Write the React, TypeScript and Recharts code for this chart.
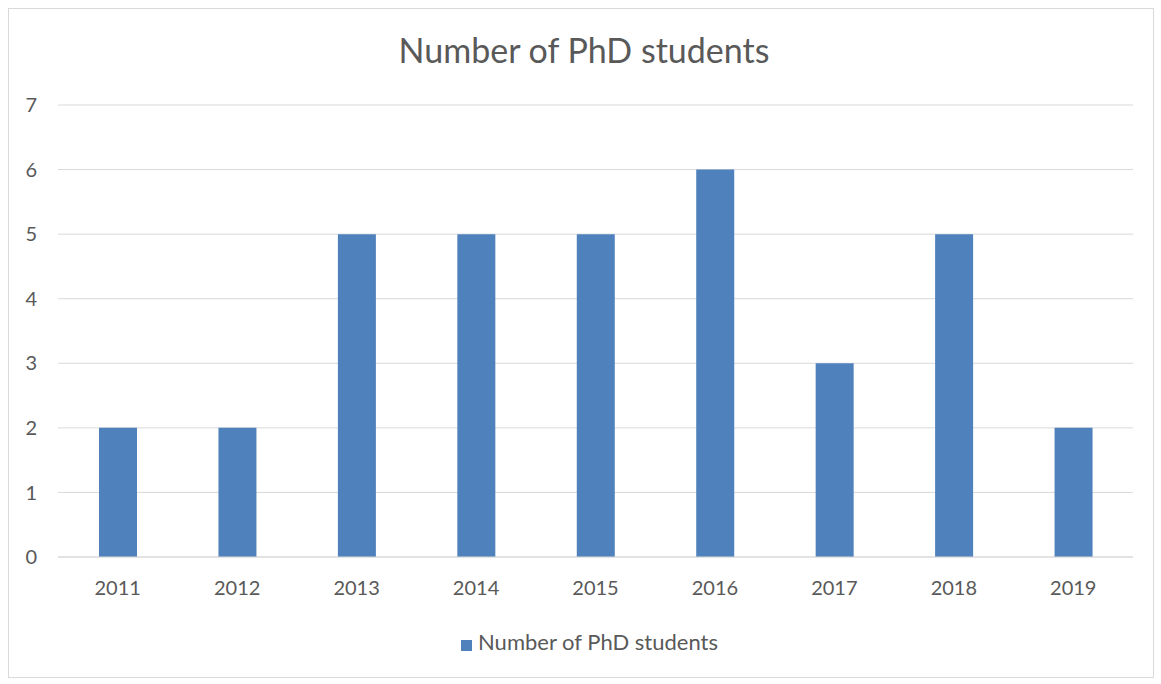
import React from "react";
import { BarChart, Bar, XAxis, YAxis, CartesianGrid, Legend } from "recharts";

// Yearly count of PhD students
const years = ["2011", "2012", "2013", "2014", "2015", "2016", "2017", "2018", "2019"];
const students = [2, 2, 5, 5, 5, 6, 3, 5, 2];
const yTicks = [0, 1, 2, 3, 4, 5, 6, 7];

const seriesName = "Number of PhD students";
const data = years.map((year, i) => ({ year, value: students[i] }));

const FONT = "Lato, 'Open Sans', sans-serif";
const TEXT = "#595959";
const BAR = "#4f81bd";

export default function App() {
  return (
    <div style={{ position: "absolute", left: 0, top: 0, width: 1161, height: 684, background: "#fff", fontFamily: FONT }}>
      <div
        style={{
          position: "absolute",
          left: 8,
          top: 8,
          width: 1146,
          height: 670,
          border: "1px solid #d9d9d9",
          boxSizing: "border-box",
        }}
      />
      <div
        style={{
          position: "absolute",
          left: 0,
          width: 1168,
          top: 29,
          textAlign: "center",
          fontSize: 34,
          color: TEXT,
          lineHeight: "42px",
        }}
      >
        {seriesName}
      </div>
      <BarChart
        width={1161}
        height={684}
        data={data}
        margin={{ top: 105, right: 28, bottom: 97, left: 0 }}
        style={{ position: "absolute", left: 0, top: 0 }}
      >
        <CartesianGrid vertical={false} stroke="#d9d9d9" />
        <XAxis
          dataKey="year"
          height={30}
          tickLine={false}
          axisLine={{ stroke: "#d9d9d9" }}
          tick={{ fill: TEXT, fontSize: 20, fontFamily: FONT }}
          tickMargin={18}
        />
        <YAxis
          width={58}
          domain={[0, 7]}
          ticks={yTicks}
          tickLine={false}
          axisLine={false}
          tick={{ fill: TEXT, fontSize: 20, fontFamily: FONT }}
          tickMargin={15}
        />
        <Legend
          verticalAlign="middle"
          align="center"
          iconType="square"
          iconSize={11}
          wrapperStyle={{ top: 628, left: 14, width: 1161 }}
          formatter={(v) => <span style={{ color: TEXT, fontSize: 22, fontFamily: FONT, marginLeft: 2 }}>{v}</span>}
        />
        <Bar dataKey="value" name={seriesName} fill={BAR} barSize={38} isAnimationActive={false} />
      </BarChart>
    </div>
  );
}
